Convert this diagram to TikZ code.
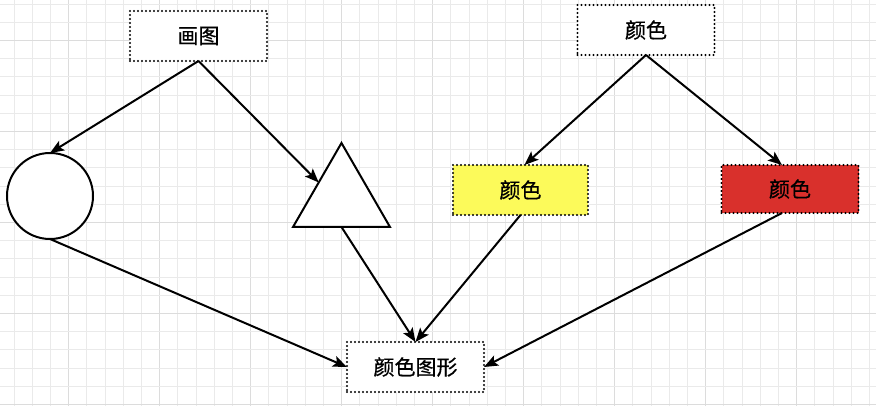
\documentclass[tikz,border=0pt]{standalone}
\usepackage{fontspec}
\newfontfamily\cjk[FakeBold=0.6]{Noto Sans CJK SC}
\usetikzlibrary{arrows.meta,shapes.geometric,calc}
\definecolor{gridminor}{RGB}{234,234,234}
\definecolor{gridmajor}{RGB}{220,220,220}
\definecolor{boxyellow}{RGB}{252,250,90}
\definecolor{boxred}{RGB}{217,48,44}
\tikzset{
  dotbox/.style={draw=black, line width=2.3pt, dash pattern=on 0pt off 4pt, line cap=round,
    minimum width=137pt, minimum height=50pt, inner sep=0pt, outer sep=0pt,
    font=\cjk\fontsize{21}{25}\selectfont, fill=white},
  conn/.style={line width=2pt, -{Stealth[length=14pt,width=11pt,inset=3pt]}},
  shapeline/.style={draw=black, line width=2pt, fill=white, inner sep=0pt, outer sep=0pt}
}
\begin{document}
\begin{tikzpicture}[x=1pt,y=-1pt]
\useasboundingbox (0,0) rectangle (876,406);
\fill[white] (0,0) rectangle (876,406);
% grid
\foreach \k in {0,...,47} {
  \pgfmathsetmacro{\xx}{14+18.2*\k}
  \pgfmathtruncatemacro{\m}{mod(\k,5)}
  \ifnum\m=3
    \draw[gridmajor, line width=1.3pt] (\xx,0) -- (\xx,406);
  \else
    \draw[gridminor, line width=0.9pt] (\xx,0) -- (\xx,406);
  \fi
}
\foreach \k in {0,...,22} {
  \pgfmathsetmacro{\yy}{4+18.2*\k}
  \pgfmathtruncatemacro{\m}{mod(\k,5)}
  \ifnum\m=2
    \draw[gridmajor, line width=1.3pt] (0,\yy) -- (876,\yy);
  \else
    \draw[gridminor, line width=0.9pt] (0,\yy) -- (876,\yy);
  \fi
}
% nodes
\node[dotbox] (draw) at (198.5,36) {画图};
\node[dotbox] (color) at (646,30) {颜色};
\node[dotbox, fill=boxyellow, minimum width=135pt] (yellow) at (520.5,190) {颜色};
\node[dotbox, fill=boxred, minimum height=48pt] (red) at (790,189) {颜色};
\node[dotbox] (result) at (415.5,367) {颜色图形};
\node[shapeline, circle, minimum size=86pt] (circ) at (50,196) {};
\node[shapeline, regular polygon, regular polygon sides=3, minimum size=112pt] (tri) at (341.5,199) {};
% connectors
\draw[conn] (draw.south) -- (circ.north);
\draw[conn] (draw.south) -- ($(tri.corner 2)!0.53!(tri.corner 1)$);
\draw[conn] (color.south) -- ($(yellow.north)+(4,0)$);
\draw[conn] (color.south) -- ($(red.north)+(-8,0)$);
\draw[conn] (circ.south) -- (result.west);
\draw[conn] (tri.south) -- (result.north);
\draw[conn] (yellow.south) -- (result.north);
\draw[conn] ($(red.south)+(-8,0)$) -- (result.east);
\end{tikzpicture}
\end{document}
